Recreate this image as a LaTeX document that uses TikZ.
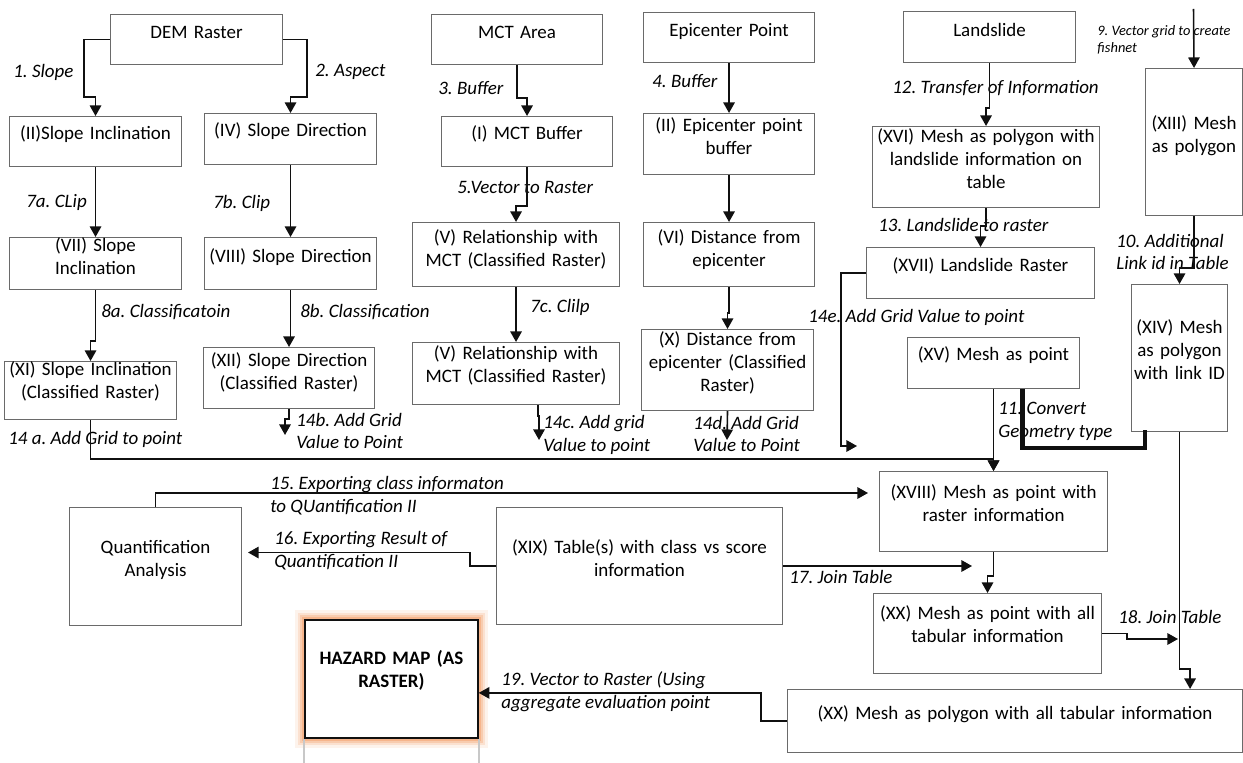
\documentclass[tikz,border=0pt]{standalone}
\usepackage{fontspec}
\setmainfont{Carlito}
\usetikzlibrary{positioning,arrows.meta,calc,backgrounds}
\definecolor{frame}{HTML}{6A6A6A}
\definecolor{ink}{HTML}{101010}
\definecolor{glow}{HTML}{F29A62}
\definecolor{fade}{HTML}{C8C8C8}
\frenchspacing

\begin{document}
\begin{tikzpicture}[x=0.02cm,y=-0.02cm,
  box/.style n args={3}{draw=frame,line width=0.6pt,fill=white,anchor=north west,align=center,
    inner xsep=0pt,inner ysep=0pt,text width=#1*0.02cm,text height=#3*0.02cm,
    text depth=(#2-#3)*0.02cm,font=\fontsize{10.8}{13}\selectfont},
  lbl/.style={anchor=west,inner sep=0pt,align=left,font=\itshape\fontsize{10.8}{13}\selectfont},
  arr/.style={-{Triangle[width=6.5pt,length=6pt]},line width=0.9pt,draw=ink},
  heavy/.style={line width=2.4pt,draw=ink}]
  \useasboundingbox (0,0) rectangle (1243,763);
  % input layers
  \node[box={172}{50}{24}] (dem) at (110,14) {DEM Raster};
  \node[box={171}{50}{24}] (mct) at (431,14) {MCT Area};
  \node[box={171}{50}{24}] (epi) at (643,12) {Epicenter Point};
  \node[box={172}{51}{25}] (land) at (903,11) {Landslide};
  % derived layers
  \node[box={172}{50}{23}] (slope) at (9,116) {(II)Slope Inclination};
  \node[box={172}{51}{23}] (aspect) at (204,113) {(IV) Slope Direction};
  \node[box={171}{50}{23}] (mctbuf) at (441,116) {(I) MCT Buffer};
  \node[box={171}{61}{18}] (epibuf) at (643,113) {(II) Epicenter point\\buffer};
  \node[box={227}{81}{16}] (landpoly) at (872,126) {(XVI) Mesh as polygon with\\landslide information on\\table};
  \node[box={97}{147}{61}] (mesh) at (1145,68) {(XIII) Mesh\\as polygon};
  \node[box={172}{52}{14}] (clipslope) at (9,237) {(VII) Slope\\Inclination};
  \node[box={172}{52}{25}] (clipaspect) at (204,237) {(VIII) Slope Direction};
  \node[box={207}{64}{21}] (mctras) at (412,222) {(V) Relationship with\\MCT (Classified Raster)};
  \node[box={171}{64}{21}] (epidist) at (643,222) {(VI) Distance from\\epicenter};
  \node[box={228}{51}{24}] (landras) at (866,247) {(XVII) Landslide Raster};
  \node[box={172}{58}{14}] (classslope) at (4,361) {(XI) Slope Inclination\\(Classified Raster)};
  \node[box={171}{61}{19}] (classaspect) at (203,347) {(XII) Slope Direction\\(Classified Raster)};
  \node[box={207}{62}{17}] (mctclip) at (412,342) {(V) Relationship with\\MCT (Classified Raster)};
  \node[box={172}{81}{16}] (epiclass) at (641,329) {(X) Distance from\\epicenter (Classified\\Raster)};
  \node[box={96}{147}{49}] (meshid) at (1131,284) {(XIV) Mesh\\as polygon\\with link ID};
  \node[box={172}{51}{23}] (meshpt) at (907,337) {(XV) Mesh as point};
  % tables and output
  \node[box={228}{80}{27}] (ptras) at (879,471) {(XVIII) Mesh as point with\\raster information};
  \node[box={172}{118}{46}] (quant) at (69,507) {Quantification\\Analysis};
  \node[box={286}{117}{46}] (score) at (496,507) {(XIX) Table(s) with class vs score\\information};
  \node[box={228}{80}{26}] (ptall) at (873,593) {(XX) Mesh as point with all\\tabular information};
  \node[box={455}{63}{30}] (polyall) at (787,689) {(XX) Mesh as polygon with all tabular information};
  \node[box={173}{118}{45},draw=ink,line width=1pt,font=\bfseries\fontsize{10.8}{13}\selectfont] (hazard) at (304,619) {HAZARD MAP (AS\\RASTER)};
  \begin{scope}[on background layer]
    \foreach \w/\o in {10/0.12,7/0.2,4.5/0.3,2.5/0.45}
      \draw[glow,line width=\w pt,opacity=\o] (hazard.north west) rectangle (hazard.south east);
  \end{scope}
  \draw[fade,line width=1pt] (hazard.south west) -- ++(0,26);
  \draw[fade,line width=1pt] (hazard.south east) -- ++(0,26);
  % step labels
  \node[lbl] (l1) at (13,72) {1. Slope};
  \node[lbl] (l2) at (315,72) {2. Aspect};
  \node[lbl] (l3) at (438,88) {3. Buffer};
  \node[lbl] (l4) at (652,81) {4. Buffer};
  \node[lbl] (l12) at (892,88) {12. Transfer of Information};
  \node[lbl,font=\itshape\fontsize{8.2}{9.7}\selectfont] (l9) at (1097,40) {9. Vector grid to create\\fishnet};
  \node[lbl] (l7a) at (26,203) {7a. CLip};
  \node[lbl] (l7b) at (213,203) {7b. Clip};
  \node[lbl] (l5) at (457,187) {5.Vector to Raster};
  \node[lbl] (l13) at (878,225) {13. Landslide to raster};
  \node[lbl] (l10) at (1116,252) {10. Additional\\Link id in Table};
  \node[lbl] (l8a) at (101,312) {8a. Classificatoin};
  \node[lbl] (l8b) at (300,312) {8b. Classification};
  \node[lbl] (l7c) at (530,307) {7c. Clilp};
  \node[lbl] (l14e) at (808,317) {14e. Add Grid Value to point};
  \node[lbl] (l14a) at (8,439) {14 a. Add Grid to point};
  \node[lbl] (l14b) at (296,431) {14b. Add Grid\\Value to Point};
  \node[lbl] (l14c) at (543,435) {14c. Add grid\\Value to point};
  \node[lbl] (l14d) at (693,434) {14d. Add Grid\\Value to Point};
  \node[lbl] (l11) at (998,421) {11. Convert\\Geometry type};
  \node[lbl] (l15) at (270,496) {15. Exporting class informaton\\to QUantification II};
  \node[lbl] (l16) at (274,551) {16. Exporting Result of\\Quantification II};
  \node[lbl] (l17) at (789,577) {17. Join Table};
  \node[lbl] (l18) at (1118,617) {18. Join Table};
  \node[lbl] (l19) at (501,692) {19. Vector to Raster (Using\\aggregate evaluation point};
  % free ends
  \coordinate (top9) at (1193.5,9);
  \coordinate (end14b) at (285,435);
  \coordinate (end14c) at (539,440);
  \coordinate (end14d) at (727,440);
  \coordinate (end14e) at (857,446);
  \coordinate (end15) at (868,493);
  \coordinate (end17) at (972,566);
  \coordinate (end18) at (1178,639);
  % arrows
  \draw[arr] (dem.west) -| (84,97) -| (slope.north);
  \draw[arr] (dem.east) -| (307,97) -| (aspect.north);
  \draw[arr] (mct.south) -- ++(0,33) -| (mctbuf.north);
  \draw[arr] (epi.south) -- (epibuf.north);
  \draw[arr] (land.south) -- ++(0,45) -| (landpoly.north);
  \draw[arr] (top9) -- (mesh.north);
  \draw[arr] (slope.south) -- (clipslope.north);
  \draw[arr] (aspect.south) -- (clipaspect.north);
  \draw[arr] (mctbuf.south) -- ++(0,39) -| (mctras.north);
  \draw[arr] (epibuf.south) -- (epidist.north);
  \draw[arr] (landpoly.south) -- ++(0,18) -| (landras.north);
  \draw[arr] (mesh.south) -- ++(0,52) -| (meshid.north);
  \draw[arr] (clipslope.south) -- ++(0,51) -| (classslope.north);
  \draw[arr] (clipaspect.south) -- ++(0,51) -| (classaspect.north);
  \draw[arr] (mctras.south) -- (mctclip.north);
  \draw[arr] (epidist.south) -- ++(0,26) -| (epiclass.north);
  \draw[arr] (classaspect.south) -- ++(0,10) -| (end14b);
  \draw[arr] ($(mctclip.south)+(22,0)$) -- ++(0,11) -| (end14c);
  \draw[arr] (epiclass.south) -- (end14d);
  \draw[arr] (landras.west) -- ++(-25,0) |- (end14e);
  \draw[arr] (classslope.south) -- ++(0,39) -| (ptras.north);
  \draw[arr] (meshpt.south) -- (ptras.north);
  \draw[heavy] ($(meshpt.south)+(29,0)$) |- ($(meshid.south west)+(14,16)$) -- ($(meshid.south west)+(14,-2)$);
  \draw[arr] (meshid.south) -- ++(0,237) -| ($(polyall.north east)+(-53,0)$);
  \draw[arr] (quant.north) |- (end15);
  \draw[arr] (score.west) -- ++(-26,0) |- ($(quant.east)+(6,-14)$);
  \draw[arr] (score.east) -- (end17);
  \draw[arr] (ptras.south) -- ++(0,24) -| (ptall.north);
  \draw[arr] (ptall.east) -- ++(25,0) |- (end18);
  \draw[arr] (polyall.west) -- ++(-26,0) |- ($(hazard.east)+(0,14)$);
\end{tikzpicture}
\end{document}
